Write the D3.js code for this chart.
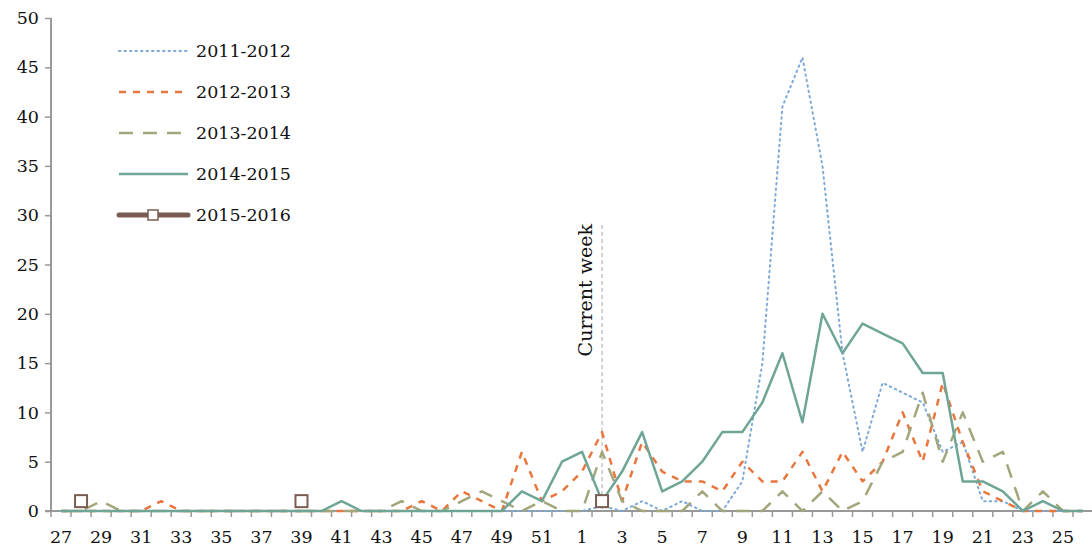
<!DOCTYPE html>
<html>
<head>
<meta charset="utf-8">
<script src="https://cdn.jsdelivr.net/npm/d3@7"></script>
<style>
  body { margin: 0; background: #fff; }
  text { font-family: "DejaVu Serif", serif; fill: #111; }
</style>
</head>
<body>
<svg id="chart" width="1092" height="551"></svg>
<script>
// weeks of the season, 27..52 then 1..26
var weeks = d3.range(27, 53).concat(d3.range(1, 27));
var tickWeeks = weeks.filter(function(w, i){ return i % 2 === 0; });
var yTicks = d3.range(0, 55, 5);
var currentWeek = 2;

var s2011 = [0,0,0,0,0,0,0,0,0,0,0,0,0,0,0,0,0,0,0,0,0,0,0,0,0,0,
             0,0.5,0,1,0,1,0,0,3,15,41,46,35,16,6,13,12,11,6,7,1,1,0,0,0,0];
var s2012 = [0,0,0,0,0,1,0,0,0,0,0,0,0,0,0,0,0,0,1,0,2,1,0,6,1,2,
             4,8,1,7,4,3,3,2,5,3,3,6,2,6,3,5,10,5,13,7,2,1,0,0,0,0];
var s2013 = [0,0,1,0,0,0,0,0,0,0,0,0,0,0,0,0,0,1,0,0,1,2,1,0,1,0,
             0,6,1,0,0,0,2,0,0,0,2,0,2,0,1,5,6,12,5,10,5,6,0,2,0,0];
var s2014 = [0,0,0,0,0,0,0,0,0,0,0,0,0,0,1,0,0,0,0,0,0,0,0,2,1,5,
             6,1,4,8,2,3,5,8,8,11,16,9,20,16,19,18,17,14,14,3,3,2,0,1,0,0];
// 2015-2016 only has reported points so far
var s2015 = [{week: 28, value: 1}, {week: 39, value: 1}, {week: 2, value: 1}];

var series = [
  {name: "2011-2012", values: s2011, color: "#7ea9d6", width: 2, dash: "1.5,4", cap: "round"},
  {name: "2012-2013", values: s2012, color: "#e8763d", width: 2.5, dash: "7,7", cap: "butt"},
  {name: "2013-2014", values: s2013, color: "#a3a57b", width: 2.5, dash: "14,10", cap: "butt"},
  {name: "2014-2015", values: s2014, color: "#6fa596", width: 2.5, dash: null, cap: "butt"}
];

var svg = d3.select("#chart");
var x = d3.scaleBand().domain(d3.range(weeks.length)).range([51, 1093]);
var y = d3.scaleLinear().domain([0, 50]).range([511, 18]);
var cx = function(i){ return x(i) + x.bandwidth() / 2; };

// y axis
var yAxis = svg.append("g").attr("transform", "translate(51,0)")
  .call(d3.axisLeft(y).tickValues(yTicks).tickSize(6).tickPadding(6));
yAxis.select(".domain").attr("stroke", "#999").attr("stroke-width", 2).attr("d", "M0,511V18");
yAxis.selectAll(".tick line").attr("stroke", "#999").attr("stroke-width", 1.5);
yAxis.selectAll("text").attr("font-size", 17.5).attr("font-family", "DejaVu Serif");

// x axis (category boundaries as ticks)
var gx = svg.append("g");
gx.append("line").attr("x1", 45).attr("x2", 1092).attr("y1", 511).attr("y2", 511)
  .attr("stroke", "#999").attr("stroke-width", 2);
gx.selectAll("line.tk").data(d3.range(weeks.length + 1)).enter().append("line")
  .attr("class", "tk")
  .attr("x1", function(i){ return 51 + i * x.step(); })
  .attr("x2", function(i){ return 51 + i * x.step(); })
  .attr("y1", 511).attr("y2", 517).attr("stroke", "#999").attr("stroke-width", 1.5);
gx.selectAll("text").data(tickWeeks).enter().append("text")
  .attr("x", function(w){ return cx(weeks.indexOf(w)); })
  .attr("y", 543).attr("text-anchor", "middle").attr("font-size", 17.5)
  .text(function(w){ return w; });

// current week marker
var cwx = cx(weeks.indexOf(currentWeek));
svg.append("line").attr("x1", cwx).attr("x2", cwx).attr("y1", 225).attr("y2", 511)
  .attr("stroke", "#aaa").attr("stroke-width", 1).attr("stroke-dasharray", "4,3");
svg.append("text").attr("transform", "translate(" + (cwx - 10) + ",224) rotate(-90)")
  .attr("text-anchor", "end").attr("font-size", 19).text("Current week");

// series lines
var line = d3.line().x(function(d, i){ return cx(i); }).y(function(d){ return y(d); });
series.forEach(function(s){
  svg.append("path").datum(s.values).attr("d", line).attr("fill", "none")
    .attr("stroke", s.color).attr("stroke-width", s.width)
    .attr("stroke-dasharray", s.dash).attr("stroke-linecap", s.cap)
    .attr("stroke-linejoin", "round");
});

svg.selectAll("rect.pt").data(s2015).enter().append("rect").attr("class", "pt")
  .attr("x", function(d){ return cx(weeks.indexOf(d.week)) - 6; })
  .attr("y", function(d){ return y(d.value) - 6; })
  .attr("width", 12).attr("height", 12)
  .attr("fill", "#fff").attr("stroke", "#7a5d52").attr("stroke-width", 2);

// legend
var legend = svg.append("g");
var items = series.concat([{name: "2015-2016", color: "#7a5d52", width: 5, dash: null, cap: "round", marker: true}]);
items.forEach(function(s, i){
  var ly = 51 + i * 41;
  legend.append("line").attr("x1", 119).attr("x2", 188).attr("y1", ly).attr("y2", ly)
    .attr("stroke", s.color).attr("stroke-width", s.width)
    .attr("stroke-dasharray", s.dash).attr("stroke-linecap", s.cap);
  if (s.marker) {
    legend.append("rect").attr("x", 148).attr("y", ly - 5).attr("width", 10).attr("height", 10)
      .attr("fill", "#fff").attr("stroke", "#7a5d52").attr("stroke-width", 1.5);
  }
  legend.append("text").attr("x", 196).attr("y", ly + 6).attr("font-size", 17.5).text(s.name);
});
</script>
</body>
</html>
